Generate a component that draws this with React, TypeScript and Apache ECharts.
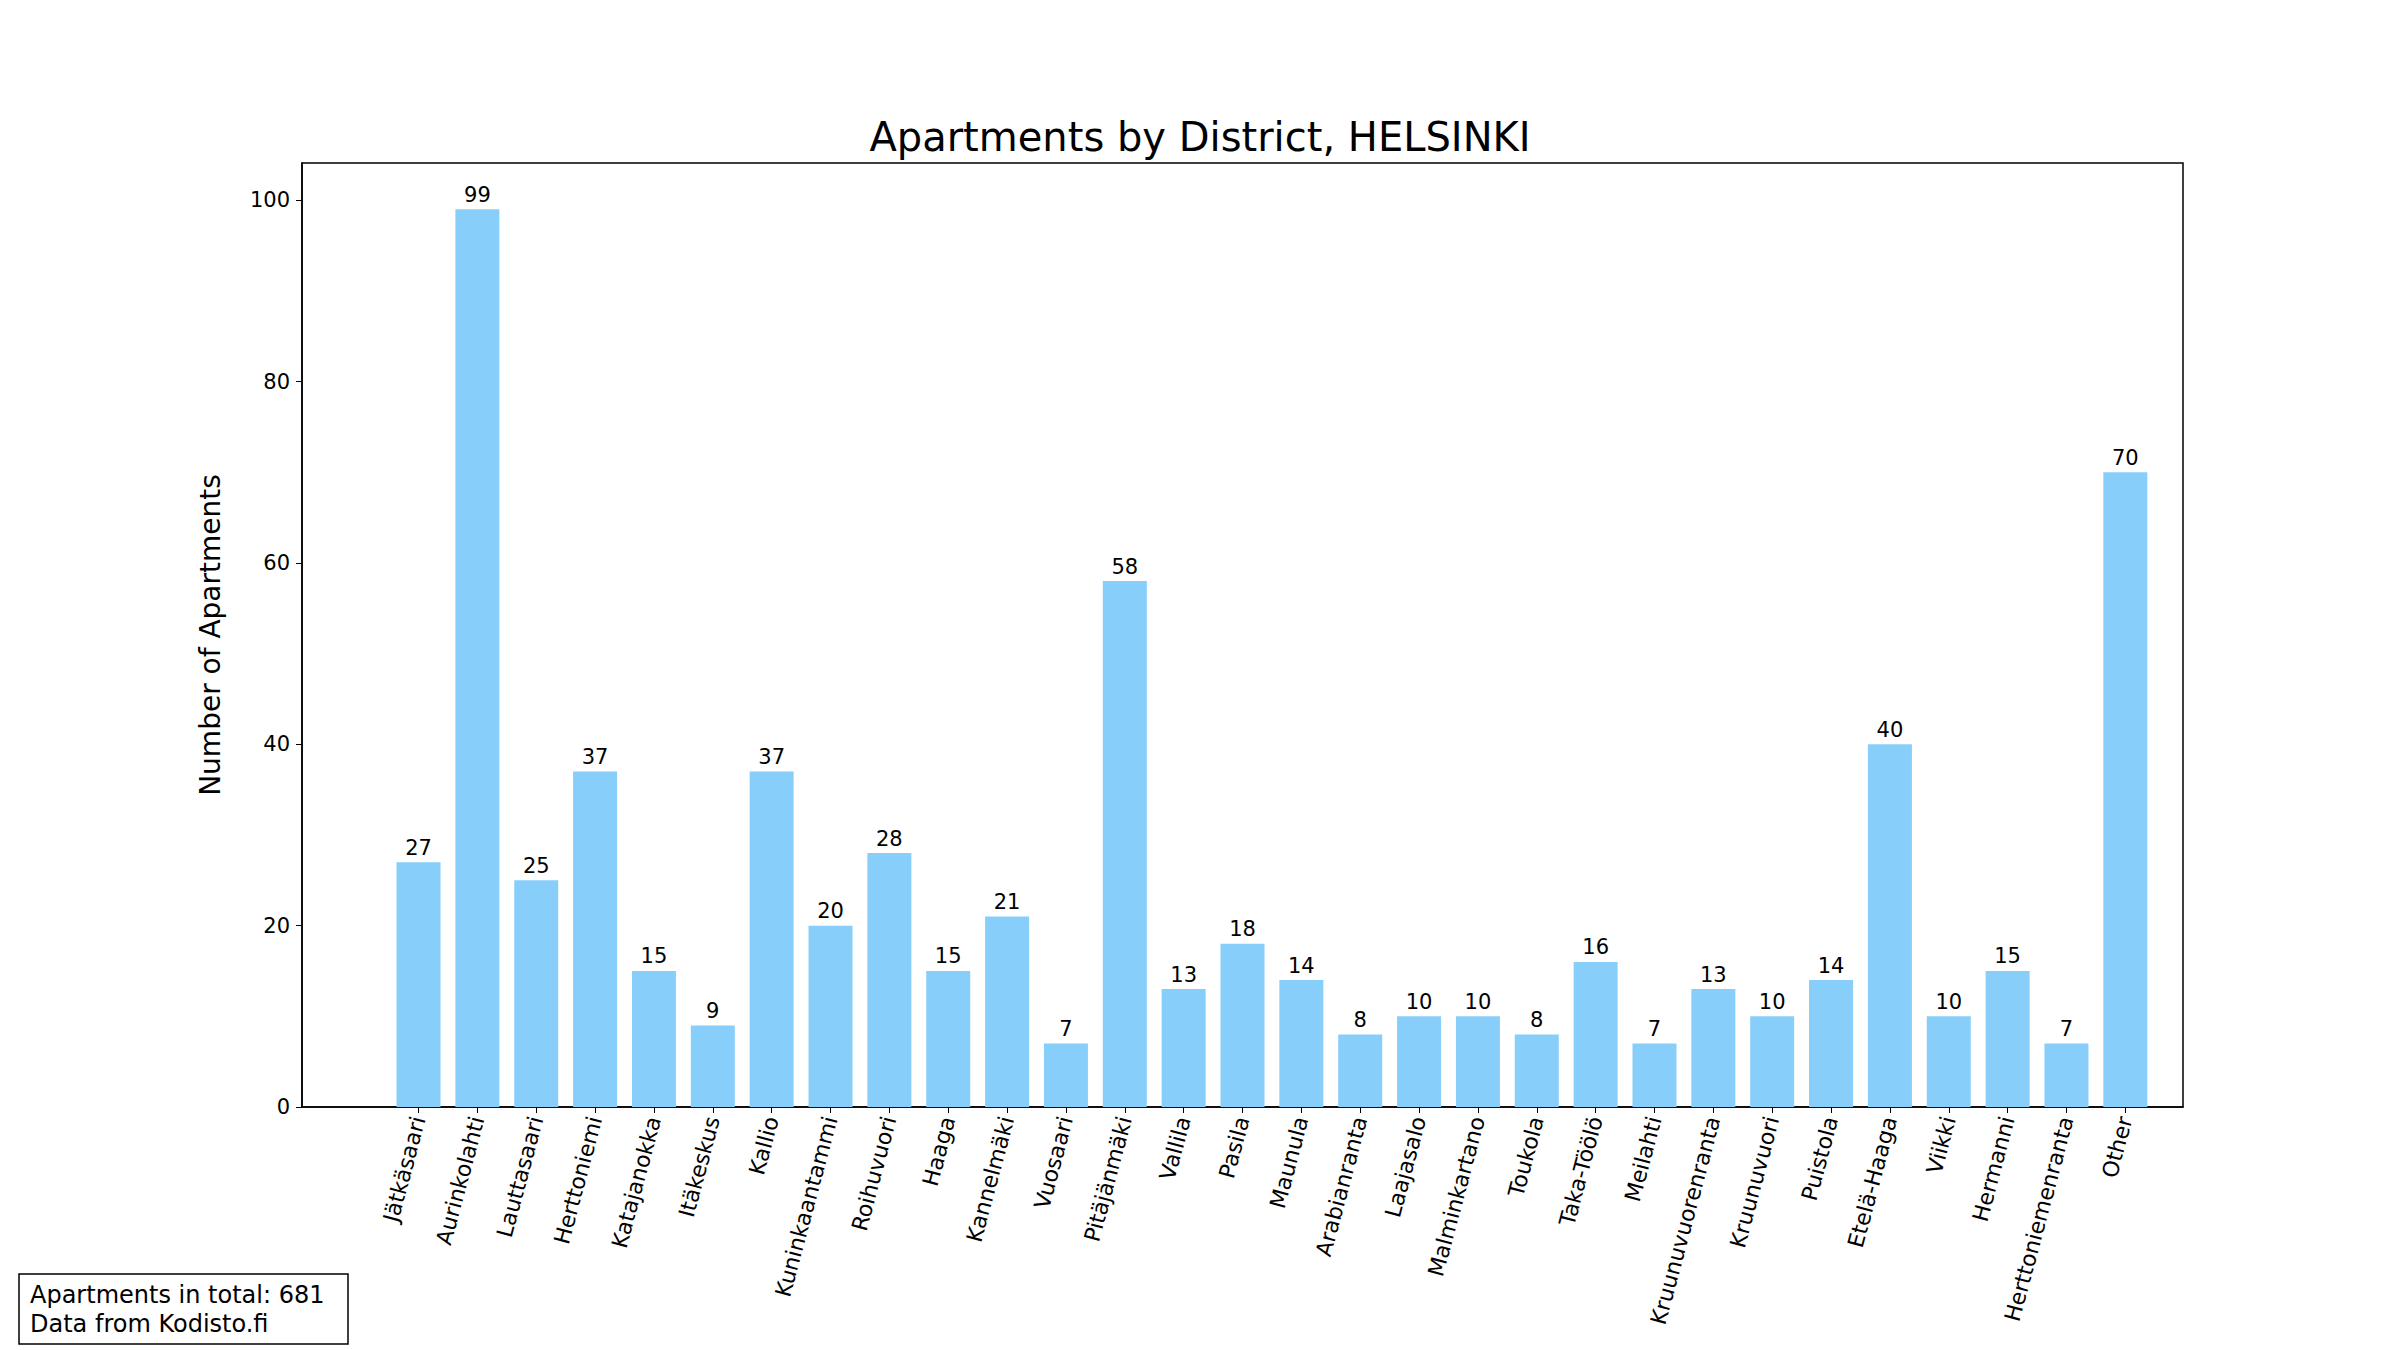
import React, { useEffect, useRef } from "react";
import * as echarts from "echarts";

const districts = ["Jätkäsaari","Aurinkolahti","Lauttasaari","Herttoniemi","Katajanokka","Itäkeskus","Kallio","Kuninkaantammi","Roihuvuori","Haaga","Kannelmäki","Vuosaari","Pitäjänmäki","Vallila","Pasila","Maunula","Arabianranta","Laajasalo","Malminkartano","Toukola","Taka-Töölö","Meilahti","Kruunuvuorenranta","Kruunuvuori","Puistola","Etelä-Haaga","Viikki","Hermanni","Herttoniemenranta","Other"];
const counts = [27,99,25,37,15,9,37,20,28,15,21,7,58,13,18,14,8,10,10,8,16,7,13,10,14,40,10,15,7,70];
const yTicks = [0,20,40,60,80,100];

export default function App() {
  const ref = useRef<HTMLDivElement>(null);
  useEffect(() => {
    document.body.style.margin = "0";
    const chart = echarts.init(ref.current!, null, { renderer: "svg" });
    const idx = districts.map((_, i) => i);
    chart.setOption({
      animation: false,
      title: { text: "Apartments by District, HELSINKI", left: "center", top: 112, textStyle: { fontSize: 40, fontWeight: "normal", color: "#000", fontFamily: "DejaVu Sans" } },
      grid: { left: 302, right: 217, top: 163, bottom: 243, show: true, borderColor: "#000", borderWidth: 1.5 },
      xAxis: {
        type: "value", min: -1.98, max: districts.length + 0.98 - 1, splitLine: { show: false },
        axisLine: { onZero: false, lineStyle: { color: "#000", width: 1.5 } },
        axisTick: { customValues: idx, length: 6, lineStyle: { color: "#000" } },
        axisLabel: { customValues: idx, rotate: 75, fontSize: 22, color: "#000", fontFamily: "DejaVu Sans", margin: 10,
          formatter: (v: number) => districts[Math.round(v)] ?? "" },
      },
      yAxis: {
        type: "value", min: 0, max: 104.1, name: "Number of Apartments", nameLocation: "middle", nameGap: 78,
        nameTextStyle: { fontSize: 28, color: "#000", fontFamily: "DejaVu Sans" },
        splitLine: { show: false },
        axisLine: { show: true, onZero: false, lineStyle: { color: "#000", width: 1.5 } },
        axisTick: { show: true, customValues: yTicks, length: 6, lineStyle: { color: "#000" } },
        axisLabel: { customValues: yTicks, fontSize: 21, color: "#000", fontFamily: "DejaVu Sans", margin: 12 },
      },
      series: [{
        type: "bar", barWidth: 44, data: counts.map((v, i) => [i, v]),
        itemStyle: { color: "#87CEFA" },
        label: { show: true, position: "top", distance: 4, fontSize: 21, color: "#000", fontFamily: "DejaVu Sans", formatter: (p: any) => String(p.value[1]) },
      }],
      graphic: [
        { type: "rect", shape: { x: 19, y: 1274, width: 329, height: 70 }, style: { fill: "#fff", stroke: "#000", lineWidth: 1.5 } },
        { type: "text", x: 30, y: 1280, style: { text: "Apartments in total: 681\nData from Kodisto.fi", fontSize: 24, lineHeight: 29, fill: "#000", fontFamily: "DejaVu Sans" } },
      ],
    });
    return () => chart.dispose();
  }, []);
  return <div ref={ref} style={{ width: 2400, height: 1350, background: "#fff" }} />;
}
